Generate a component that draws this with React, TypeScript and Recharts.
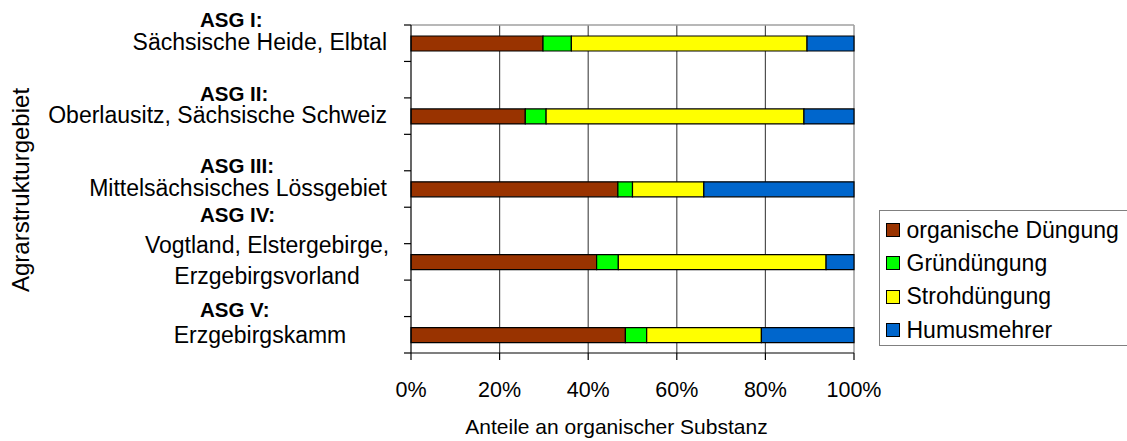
import React from 'react';
import { BarChart, Bar, XAxis, YAxis, CartesianGrid, Legend, Label } from 'recharts';

// ---- data ----
const asgLabels = ['ASG I:', 'ASG II:', 'ASG III:', 'ASG IV:', 'ASG V:'];
const regionLines = [
  ['Sächsische Heide, Elbtal'],
  ['Oberlausitz, Sächsische Schweiz'],
  ['Mittelsächsisches Lössgebiet'],
  ['Vogtland, Elstergebirge,', 'Erzgebirgsvorland'],
  ['Erzgebirgskamm'],
];
const organischeDuengung = [29.8, 25.8, 46.7, 41.9, 48.4];
const gruenduengung = [6.4, 4.7, 3.3, 4.9, 4.8];
const strohduengung = [53.2, 58.2, 16.1, 46.9, 25.9];
const humusmehrer = [10.6, 11.3, 33.9, 6.3, 20.9];

const seriesKeys = ['org', 'gruen', 'stroh', 'humus'];
const seriesNames = ['organische Düngung', 'Gründüngung', 'Strohdüngung', 'Humusmehrer'];
const seriesColors = ['#993300', '#00FF00', '#FFFF00', '#0066CC'];

const xTicks = [0, 20, 40, 60, 80, 100];
const xTitle = 'Anteile an organischer Substanz';
const yTitle = 'Agrarstrukturgebiet';

// table: region rows separated by empty gap rows
const rows: any[] = [];
asgLabels.forEach((_, i) => {
  rows.push({
    key: 'r' + i,
    region: i,
    org: organischeDuengung[i],
    gruen: gruenduengung[i],
    stroh: strohduengung[i],
    humus: humusmehrer[i],
  });
  if (i < asgLabels.length - 1) rows.push({ key: 'g' + i, region: -1 });
});

const FONT = '"Liberation Sans", Arial, Helvetica, sans-serif';

// label layout per region (style only)
const labelLayout = [
  { boldDy: -16, lineDy: [7], anchor: 'end', lineX: -24 },
  { boldDy: -15.5, lineDy: [7.3], anchor: 'end', lineX: -24 },
  { boldDy: -16.5, lineDy: [6.5], anchor: 'end', lineX: -24 },
  { boldDy: -40.3, lineDy: [-8.5, 22], anchor: 'middle', lineX: -144 },
  { boldDy: -17.5, lineDy: [8], anchor: 'middle', lineX: -151 },
];

const YTick = (props: any) => {
  const { x, payload, index } = props;
  const y = payload.coordinate;
  const axisX = x + 7;
  const half = payload.offset || 18.2;
  const isLast = index === rows.length - 1;
  const row = rows[index];
  const els: any[] = [];
  els.push(<line key="t1" x1={axisX - 7} x2={axisX} y1={y - half} y2={y - half} stroke="#000" strokeWidth={1.2} />);
  if (isLast) els.push(<line key="t2" x1={axisX - 7} x2={axisX} y1={y + half} y2={y + half} stroke="#000" strokeWidth={1.2} />);
  if (row && row.region >= 0) {
    const r = row.region;
    const L = labelLayout[r];
    els.push(
      <text key="b" x={axisX - 211} y={y + L.boldDy} fontFamily={FONT} fontSize={20.5} fontWeight="bold" fill="#000" textAnchor="start">
        {asgLabels[r]}
      </text>
    );
    regionLines[r].forEach((ln, j) => {
      els.push(
        <text key={'l' + j} x={axisX + L.lineX} y={y + L.lineDy[j]} fontFamily={FONT} fontSize={23} fill="#000" textAnchor={L.anchor}>
          {ln}
        </text>
      );
    });
  }
  return <g>{els}</g>;
};

const LegendContent = () => (
  <div
    style={{
      border: '1px solid #808080',
      width: 260,
      height: 136,
      boxSizing: 'border-box',
      paddingTop: 2.5,
      paddingLeft: 6,
      background: '#fff',
      fontFamily: FONT,
      fontSize: 23,
      color: '#000',
    }}
  >
    {seriesNames.map((n, i) => (
      <div key={n} style={{ display: 'flex', alignItems: 'center', height: 33.3, whiteSpace: 'nowrap' }}>
        <span
          style={{
            display: 'inline-block',
            width: 14,
            height: 14,
            boxSizing: 'border-box',
            border: '1.2px solid #000',
            background: seriesColors[i],
            marginRight: 6.5,
          }}
        />
        <span>{n}</span>
      </div>
    ))}
  </div>
);

export default function App() {
  return (
    <div style={{ position: 'absolute', left: 0, top: 0, width: 1127, height: 441, overflow: 'hidden', background: '#fff' }}>
      <BarChart
        width={1127}
        height={441}
        data={rows}
        layout="vertical"
        margin={{ top: 25, right: 273, bottom: 0, left: 0 }}
        barSize={15}
      >
        <CartesianGrid
          horizontal={false}
          stroke="#505050"
          strokeWidth={1.2}
          verticalCoordinatesGenerator={({ offset }: any) =>
            [20, 40, 60, 80].map((t) => offset.left + (offset.width * t) / 100)
          }
        />
        <CartesianGrid
          stroke="#a0a0a0"
          strokeWidth={1.6}
          horizontalCoordinatesGenerator={({ offset }: any) => [offset.top]}
          verticalCoordinatesGenerator={({ offset }: any) => [offset.left + offset.width]}
        />
        <XAxis
          type="number"
          domain={[0, 100]}
          ticks={xTicks}
          tickFormatter={(v: number) => v + '%'}
          height={88}
          tickSize={7}
          tickMargin={22}
          axisLine={{ stroke: '#000', strokeWidth: 1.2 }}
          tickLine={{ stroke: '#000', strokeWidth: 1.2 }}
          tick={{ fill: '#000', fontSize: 21.5, fontFamily: FONT }}
          interval={0}
        >
          <Label
            content={(p: any) => {
              const vb = p.viewBox;
              return (
                <text x={vb.x + vb.width / 2 - 16} y={vb.y + vb.height - 7} textAnchor="middle" fontFamily={FONT} fontSize={21} fill="#000">
                  {xTitle}
                </text>
              );
            }}
          />
        </XAxis>
        <YAxis
          type="category"
          dataKey="key"
          width={411}
          tickSize={7}
          tickMargin={0}
          tickLine={false}
          interval={0}
          axisLine={{ stroke: '#000', strokeWidth: 1.2 }}
          tick={<YTick />}
        >
          <Label
            content={() => (
              <text x={29} y={190} transform="rotate(-90, 29, 190)" textAnchor="middle" fontFamily={FONT} fontSize={24} fill="#000">
                {yTitle}
              </text>
            )}
          />
        </YAxis>
        {seriesKeys.map((k, i) => (
          <Bar
            key={k}
            dataKey={k}
            name={seriesNames[i]}
            stackId="a"
            fill={seriesColors[i]}
            stroke="#000"
            strokeWidth={1.2}
            isAnimationActive={false}
          />
        ))}
        <Legend
          layout="vertical"
          align="center"
          verticalAlign="middle"
          content={<LegendContent />}
          wrapperStyle={{ left: 879, top: 210, width: 260, height: 136 }}
        />
      </BarChart>
    </div>
  );
}
